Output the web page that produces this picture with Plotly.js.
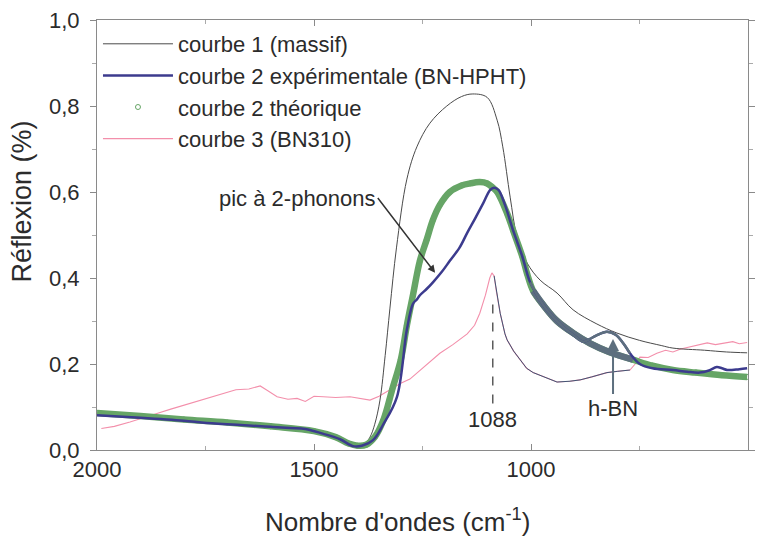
<!DOCTYPE html>
<html>
<head>
<meta charset="utf-8">
<script src="https://cdn.plot.ly/plotly-3.0.1.min.js"></script>
<style>html,body{margin:0;padding:0;background:#fff;}#chart{width:759px;height:537px;}</style>
</head>
<body>
<div id="chart"></div>
<script>
// Wavenumber (cm-1) / reflexion values
const c1X = [2000,1900,1800,1700,1600,1500,1450,1420,1400,1385,1371,1360,1348,1336,1325,1310,1286,1263,1233,1194,1160,1134,1101,1078,1065,1048,1032,1009,979,940,903,850,802,750,700,673,600,550,502];
const c1Y = [0.084,0.078,0.071,0.064,0.056,0.044,0.032,0.018,0.011,0.012,0.03,0.06,0.116,0.22,0.33,0.47,0.63,0.705,0.76,0.80,0.822,0.828,0.82,0.767,0.705,0.588,0.495,0.435,0.395,0.365,0.326,0.294,0.272,0.255,0.243,0.237,0.232,0.228,0.226];

const c2eX = [2000,1900,1800,1747,1650,1600,1555,1520,1480,1440,1410,1390,1364,1340,1309,1286,1272,1263,1256,1240,1226,1205,1187,1165,1147,1128,1110,1094,1085,1075,1060,1041,1020,1002,980,963,930,903,880,865,850,825,805,785,772,749,720,673,640,611,590,572,560,548,520,502];
const c2eY = [0.081,0.075,0.068,0.063,0.057,0.054,0.051,0.049,0.038,0.025,0.009,0.01,0.023,0.06,0.123,0.28,0.34,0.35,0.36,0.375,0.39,0.415,0.44,0.47,0.505,0.54,0.574,0.605,0.61,0.605,0.57,0.51,0.45,0.39,0.35,0.325,0.29,0.268,0.252,0.258,0.266,0.275,0.268,0.245,0.225,0.2,0.19,0.186,0.182,0.18,0.185,0.193,0.19,0.186,0.188,0.19];

const c2tX = [2000,1900,1800,1700,1600,1500,1450,1420,1400,1380,1360,1340,1320,1300,1286,1272,1256,1240,1226,1210,1187,1160,1140,1118,1101,1088,1078,1055,1041,1020,1009,995,970,940,900,864,820,765,720,673,620,560,502];
const c2tY = [0.086,0.079,0.071,0.064,0.055,0.044,0.03,0.015,0.01,0.012,0.03,0.07,0.14,0.21,0.29,0.36,0.44,0.49,0.535,0.57,0.6,0.615,0.62,0.623,0.62,0.61,0.6,0.55,0.51,0.45,0.41,0.37,0.335,0.30,0.27,0.248,0.228,0.21,0.196,0.186,0.18,0.174,0.17];

const c3X = [1990,1960,1924,1890,1862,1830,1786,1750,1710,1680,1650,1624,1610,1585,1560,1539,1520,1500,1479,1450,1417,1395,1371,1350,1325,1300,1279,1250,1210,1180,1147,1130,1118,1105,1095,1090,1085,1080,1071,1060,1055,1040,1025,1010,995,970,940,910,887,860,825,800,772,760,749,730,710,690,673,655,634,615,594,575,556,535,520,502];
const c3Y = [0.05,0.055,0.065,0.075,0.085,0.095,0.108,0.12,0.132,0.14,0.142,0.149,0.14,0.124,0.118,0.12,0.113,0.125,0.124,0.122,0.124,0.12,0.116,0.125,0.14,0.155,0.165,0.19,0.225,0.245,0.27,0.29,0.318,0.36,0.4,0.412,0.405,0.37,0.318,0.27,0.256,0.23,0.21,0.19,0.18,0.17,0.158,0.16,0.163,0.17,0.18,0.183,0.186,0.2,0.216,0.215,0.225,0.232,0.228,0.235,0.24,0.245,0.249,0.245,0.249,0.252,0.247,0.25];

const yTickVals = [0,0.2,0.4,0.6,0.8,1.0];
const yTickText = ['0,0','0,2','0,4','0,6','0,8','1,0'];
const xTickVals = [2000,1500,1000,500];
const xTickText = ['2000','1500','1000','500'];

const names = ['courbe 1 (massif)','courbe 2 expérimentale (BN-HPHT)','courbe 2 théorique','courbe 3 (BN310)'];

// helpers: take the sub-range of a series (for the tinted region of the scan)
function seg(xs, ys, lo, hi){
  const ox=[], oy=[];
  xs.forEach((x,i)=>{ if(x>=lo && x<=hi){ox.push(x);oy.push(ys[i]);} });
  return {x:ox, y:oy};
}
const slate = '#5d6f7e';
const s3 = seg(c3X,c3Y,770,1086);
const sT = seg(c2tX,c2tY,765,1002);
const sE = seg(c2eX,c2eY,765,1002);

const traces = [
  {x:c3X, y:c3Y, mode:'lines', name:names[3], legendrank:4, line:{color:'#f38fab', width:1.1}},
  {x:s3.x, y:s3.y, mode:'lines', showlegend:false, hoverinfo:'skip', line:{color:'#3f5674', width:1}},
  {x:c1X, y:c1Y, mode:'lines', name:names[0], legendrank:1, line:{color:'#4a4a4a', width:1, shape:'spline'}},
  {x:c2tX, y:c2tY, mode:'lines', showlegend:false, hoverinfo:'skip', line:{color:'#66a566', width:6.5, shape:'spline'}},
  {x:c2tX, y:c2tY, mode:'markers', name:names[2], legendrank:3, marker:{symbol:'circle-open', size:5, color:'#66a566', line:{width:1}}},
  {x:sT.x, y:sT.y, mode:'lines', showlegend:false, hoverinfo:'skip', line:{color:slate, width:6.5, shape:'spline'}},
  {x:c2eX, y:c2eY, mode:'lines', name:names[1], legendrank:2, line:{color:'#3c3b8e', width:2.5, shape:'spline'}},
  {x:sE.x, y:sE.y, mode:'lines', showlegend:false, hoverinfo:'skip', line:{color:slate, width:2.5, shape:'spline'}}
];

const font = 'Liberation Sans, Arial, sans-serif';
const txt = '#2b2b2b';

const layout = {
  width:759, height:537,
  margin:{l:97, r:11, t:20, b:87},
  paper_bgcolor:'#fff', plot_bgcolor:'#fff',
  font:{family:font, color:txt, size:22},
  showlegend:true,
  legend:{x:0.0015, y:0.993, xanchor:'left', yanchor:'top', bgcolor:'rgba(0,0,0,0)',
          font:{size:22, color:txt}, itemwidth:70, tracegroupgap:0},
  xaxis:{range:[2000,500], showline:true, mirror:'ticks', linecolor:'#8a8a8a', linewidth:1,
         ticks:'inside', ticklen:6, tickcolor:'#8a8a8a', tickvals:xTickVals, ticktext:xTickText,
         tickfont:{size:22, color:txt}, showgrid:false, zeroline:false,
         minor:{dtick:250, tick0:500, ticks:'inside', ticklen:4, tickcolor:'#aaa'}},
  yaxis:{range:[0,1.0], showline:true, mirror:'ticks', linecolor:'#8a8a8a', linewidth:1,
         ticks:'outside', ticklen:6, tickcolor:'#8a8a8a', tickvals:yTickVals, ticktext:yTickText,
         tickfont:{size:22, color:txt}, showgrid:false, zeroline:false, ticklabelstandoff:6,
         minor:{dtick:0.1, tick0:0, ticks:'outside', ticklen:4, tickcolor:'#aaa'}},
  shapes:[
    {type:'line', xref:'x', yref:'y', x0:1088, x1:1088, y0:0.108, y1:0.345,
     line:{color:'#333', width:1.2, dash:'dash'}}
  ],
  annotations:[
    {xref:'paper', yref:'paper', x:-0.115, y:0.578, text:'Réflexion (%)', textangle:-90,
     showarrow:false, font:{size:27, color:txt}, xanchor:'center', yanchor:'middle'},
    {xref:'paper', yref:'paper', x:0.461, y:-0.163, text:"Nombre d'ondes (cm<sup>-1</sup>)",
     showarrow:false, font:{size:26, color:txt}, xanchor:'center', yanchor:'middle'},
    {xref:'x', yref:'y', x:1221, y:0.412, axref:'x', ayref:'y', ax:1353, ay:0.586,
     text:'pic à 2-phonons', xanchor:'right', yanchor:'middle', showarrow:true,
     arrowhead:2, arrowsize:1, arrowwidth:1.5, arrowcolor:'#333', standoff:0,
     font:{size:22, color:txt}},
    {xref:'x', yref:'y', x:1088, y:0.07, text:'1088', showarrow:false,
     font:{size:22, color:txt}},
    {xref:'x', yref:'y', x:811, y:0.258, axref:'x', ayref:'y', ax:811, ay:0.13,
     text:'h-BN', xanchor:'center', yanchor:'top', showarrow:true,
     arrowhead:2, arrowsize:1.2, arrowwidth:2, arrowcolor:slate, standoff:0,
     font:{size:22, color:txt}}
  ]
};

Plotly.newPlot('chart', traces, layout, {staticPlot:true}).then(()=>{
  document.querySelectorAll('.legendlines').forEach(p=>p.setAttribute('d','M5,0h66'));
});
</script>
</body>
</html>
